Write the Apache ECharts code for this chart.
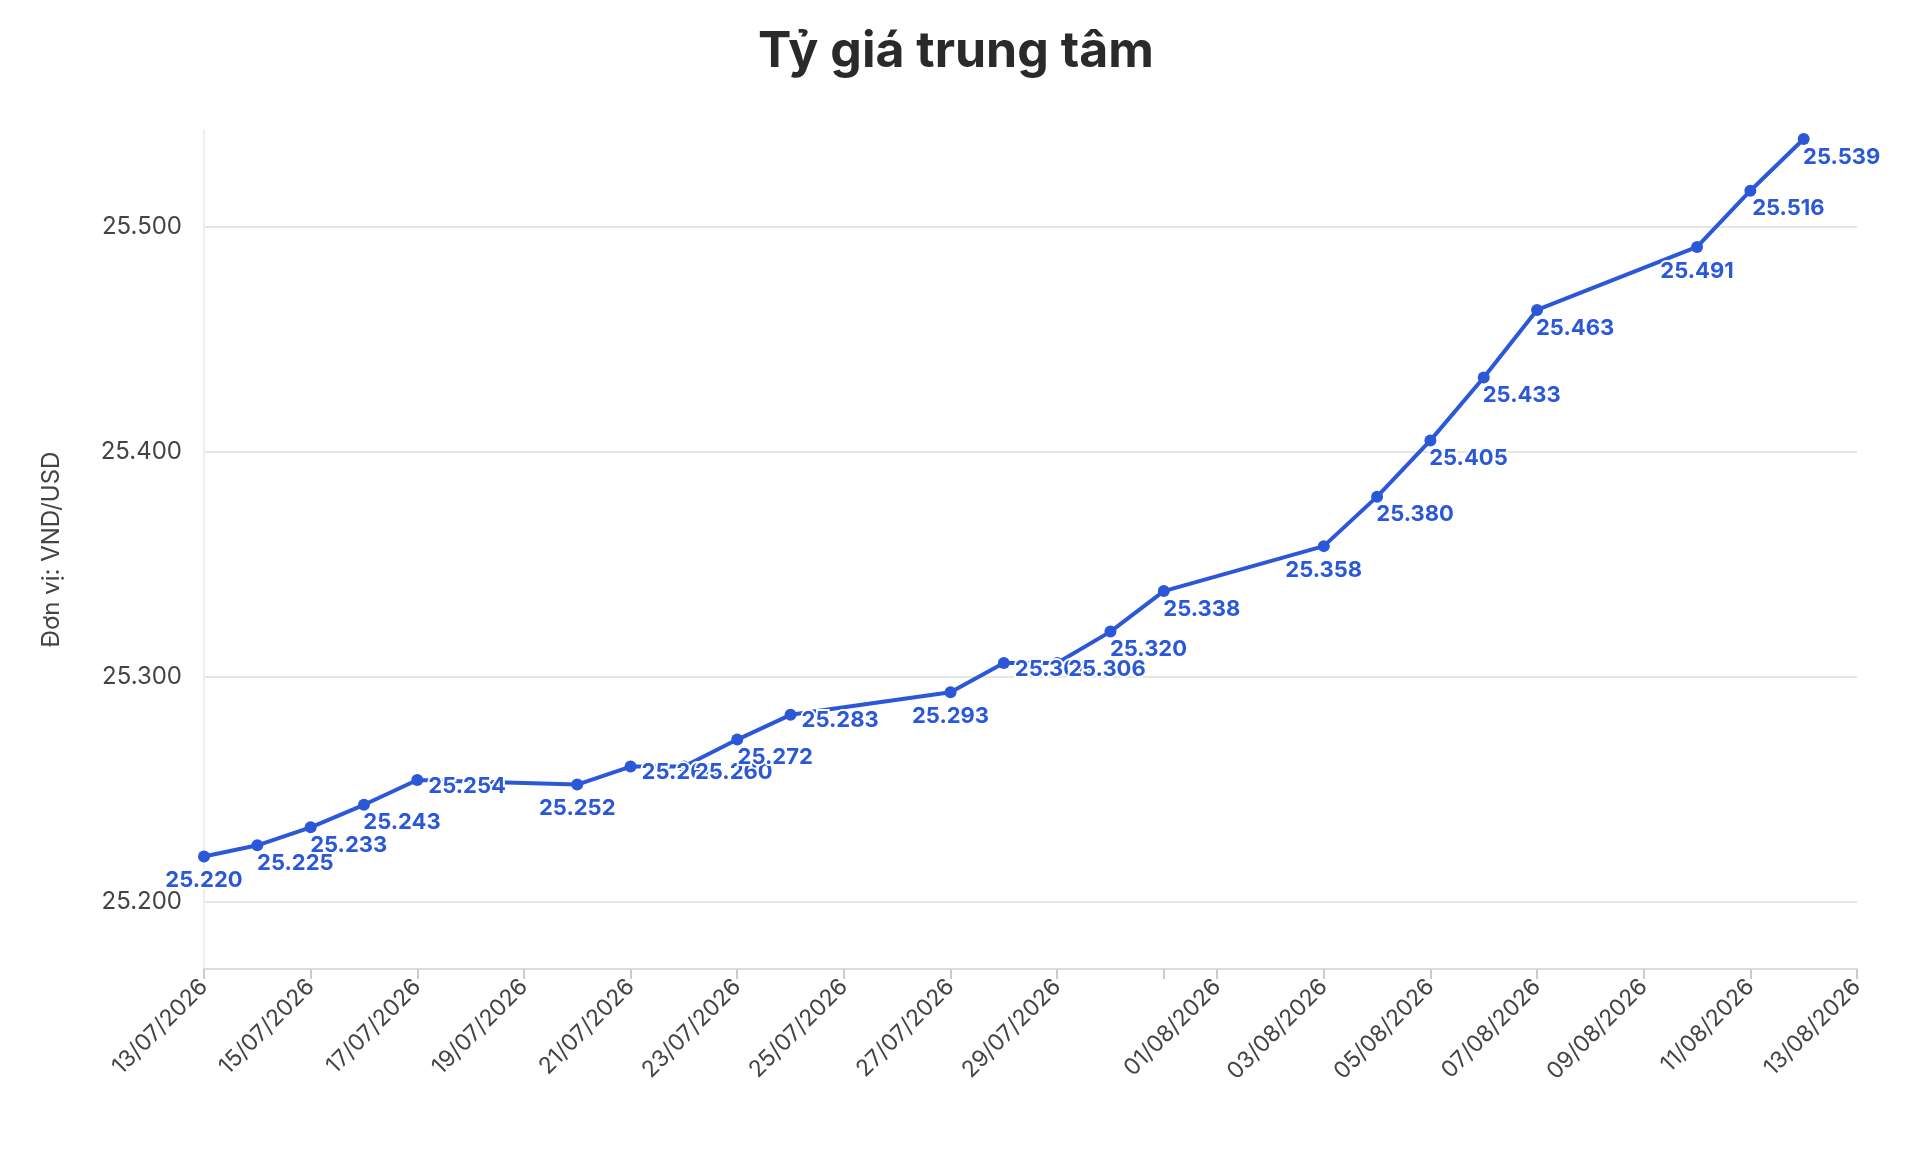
<!DOCTYPE html><html><head><meta charset="utf-8">
<script src="https://cdn.jsdelivr.net/npm/echarts@6/dist/echarts.min.js"></script>
<style>html,body{margin:0;background:#fff}#c{width:1912px;height:1156px}</style></head><body><div id="c"></div>
<script>
const dates=['2026-07-13','2026-07-14','2026-07-15','2026-07-16','2026-07-17','2026-07-20','2026-07-21','2026-07-22','2026-07-23','2026-07-24','2026-07-27','2026-07-28','2026-07-29','2026-07-30','2026-07-31','2026-08-03','2026-08-04','2026-08-05','2026-08-06','2026-08-07','2026-08-10','2026-08-11','2026-08-12'];
const rates=[25220,25225,25233,25243,25254,25252,25260,25260,25272,25283,25293,25306,25306,25320,25338,25358,25380,25405,25433,25463,25491,25516,25539];
const yTicks=[25200,25300,25400,25500];
const place=['b','br','br','br','r','b','r','r','br','r','b','r','r','br','br','b','br','br','br','br','b','br','br'];
const fmt=v=>String(v).replace(/\B(?=(\d{3})+(?!\d))/g,'.');
const pad=n=>String(n).padStart(2,'0');
const data=dates.map((d,i)=>{
  const p=place[i];
  const lab=p==='r'?{position:'right',offset:[0,6]}:p==='br'?{position:'bottom',offset:[38,-4]}:{position:'bottom',offset:[0,2]};
  return {value:[d,rates[i]],label:lab};
});
const ch=echarts.init(document.getElementById('c'));
ch.setOption({
  title:{text:'Tỷ giá trung tâm',left:'center',top:22,textStyle:{fontFamily:'Inter',fontSize:50,fontWeight:'bold',color:'#2a2a2a'}},
  grid:{left:204,right:55,top:130,bottom:187},
  xAxis:{type:'time',min:'2026-07-13',max:'2026-08-13',splitNumber:16,
    axisLine:{lineStyle:{color:'#ddd',width:2}},axisTick:{show:true,lineStyle:{color:'#ccc',width:2},length:10},
    splitLine:{show:false},
    axisLabel:{rotate:45,fontSize:23,color:'#444',fontFamily:'Inter',margin:14,
      formatter:v=>{const d=new Date(v);if(d.getDate()===31)return '';return pad(d.getDate())+'/'+pad(d.getMonth()+1)+'/'+d.getFullYear();}}},
  yAxis:{type:'value',min:25170,max:25543,name:'Đơn vị: VND/USD',nameLocation:'middle',nameGap:140,
    nameTextStyle:{fontSize:24,color:'#444',fontFamily:'Inter'},
    axisLine:{show:true,lineStyle:{color:'#eee',width:2}},axisTick:{show:false,customValues:yTicks},
    splitLine:{show:true,lineStyle:{color:'#e6e6e6',width:2}},
    axisLabel:{customValues:yTicks,fontSize:24,color:'#444',fontFamily:'Inter',margin:22,formatter:v=>fmt(v)}},
  series:[{type:'line',data,symbol:'circle',symbolSize:12,
    lineStyle:{color:'#2b58d8',width:4},itemStyle:{color:'#2b58d8'},
    label:{show:true,formatter:p=>fmt(p.value[1]),fontSize:22,fontWeight:'bold',color:'#2b58d8',
      fontFamily:'Inter',textBorderColor:'#fff',textBorderWidth:4}}]
});
</script></body></html>
